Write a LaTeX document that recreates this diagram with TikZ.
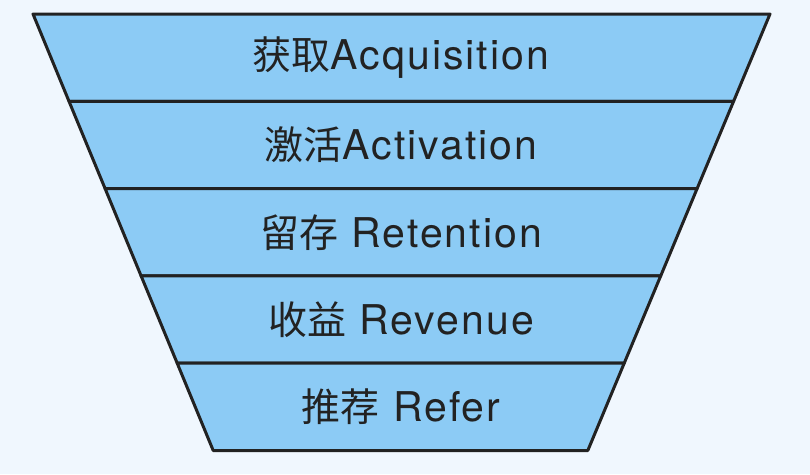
\documentclass[tikz,border=0pt]{standalone}
\usepackage{fontspec}
\setmainfont{TeX Gyre Heros}[LetterSpace=5]
\newfontfamily\cjk{Noto Sans CJK SC}
\usetikzlibrary{calc}
\definecolor{funnelfill}{HTML}{8CCBF5}
\definecolor{funnelbg}{HTML}{F0F7FE}
\definecolor{funnelline}{HTML}{222222}
\tikzset{band/.style={fill=funnelfill, draw=funnelline, line width=3pt, line join=round}}
\tikzset{stage/.style={font=\fontsize{41}{48}\selectfont, text=funnelline}}

\begin{document}
\begin{tikzpicture}[x=1pt,y=-1pt]
\fill[funnelbg] (0,0) rectangle (810,474);
\useasboundingbox (0,0) rectangle (810,474);

\coordinate (l0) at (33,14);    \coordinate (r0) at (770,14);
\coordinate (l1) at (69,101.3); \coordinate (r1) at (733.6,101.3);
\coordinate (l2) at (105.1,188.6); \coordinate (r2) at (697.1,188.6);
\coordinate (l3) at (141.1,275.9); \coordinate (r3) at (660.7,275.9);
\coordinate (l4) at (177.2,363.2); \coordinate (r4) at (624.2,363.2);
\coordinate (l5) at (213.2,450.5); \coordinate (r5) at (587.8,450.5);

% the five bands of the funnel
\draw[band] (l0)--(r0)--(r1)--(l1)--cycle;
\draw[band] (l1)--(r1)--(r2)--(l2)--cycle;
\draw[band] (l2)--(r2)--(r3)--(l3)--cycle;
\draw[band] (l3)--(r3)--(r4)--(l4)--cycle;
\draw[band] (l4)--(r4)--(r5)--(l5)--cycle;

\node[stage] (acq) at (401,57.6) {{\cjk\fontsize{39}{48}\selectfont 获取}Acquisition};
\node[stage] (act) at (401,144.9) {{\cjk\fontsize{39}{48}\selectfont 激活}Activation};
\node[stage] (ret) at (401,232.2) {{\cjk\fontsize{39}{48}\selectfont 留存} Retention};
\node[stage] (rev) at (401,319.5) {{\cjk\fontsize{39}{48}\selectfont 收益} Revenue};
\node[stage] (ref) at (401,406.8) {{\cjk\fontsize{39}{48}\selectfont 推荐} Refer};
\end{tikzpicture}
\end{document}
